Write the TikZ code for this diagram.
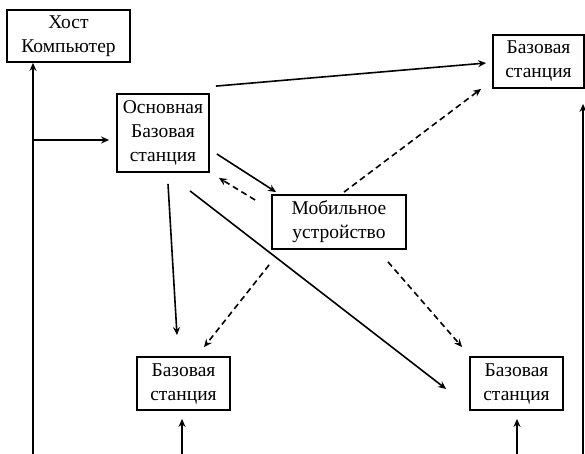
\documentclass[tikz,border=0pt]{standalone}
\usepackage{fontspec}
\setmainfont{Liberation Serif}
\usetikzlibrary{arrows.meta}
\begin{document}
\begin{tikzpicture}[x=1pt,y=-1pt,
  box/.style={draw,line width=1.8pt,rectangle,inner sep=0pt,align=center,
    font=\fontsize{19.5}{24}\selectfont},
  arr/.style={line width=1.6pt,-{Stealth[length=8pt,width=7pt]}},
  darr/.style={arr,dash pattern=on 6pt off 4pt}]
\useasboundingbox (0,0) rectangle (585,454);
\node[box,minimum width=123pt,minimum height=52pt] (host) at (68.5,36) {Хост\\Компьютер};
\node[box,minimum width=92pt,minimum height=78pt] (main) at (163,133) {Основная\\Базовая\\станция};
\node[box,minimum width=91pt,minimum height=53pt] (trbs) at (538.5,61.5) {Базовая\\станция};
\node[box,minimum width=134pt,minimum height=54pt] (mob) at (339,222) {Мобильное\\устройство};
\node[box,minimum width=93pt,minimum height=53pt] (blbs) at (183.5,383.5) {Базовая\\станция};
\node[box,minimum width=93pt,minimum height=53pt] (brbs) at (516.5,383.5) {Базовая\\станция};
\coordinate (hb) at (33,454);
\coordinate (j) at (33,140);
\coordinate (lb) at (182,454);
\coordinate (rb) at (517,454);
\coordinate (tb) at (583,454);
% host line
\draw[arr] (hb) -- ([shift={(-35.5,0)}]host.south);
\draw[arr] (j) -- ([shift={(-7,7)}]main.west);
% main to others
\draw[arr] ([shift={(6,-7)}]main.north east) -- ([shift={(-6,1.5)}]trbs.west);
\draw[arr] ([shift={(7,21)}]main.east) -- ([shift={(5,-2)}]mob.north west);
\draw[arr] ([shift={(5,11)}]main.south) -- ([shift={(-6.5,-21)}]blbs.north);
\draw[arr] ([shift={(27,18)}]main.south) -- ([shift={(-23,5.5)}]brbs.west);
% mobile dashed
\draw[darr] ([shift={(-16,-22)}]mob.west) -- ([shift={(9,5)}]main.south east);
\draw[darr] ([shift={(5,-2)}]mob.north) -- ([shift={(-11,0)}]trbs.south west);
\draw[darr] ([shift={(-2,15)}]mob.south west) -- ([shift={(20.5,-9)}]blbs.north);
\draw[darr] ([shift={(49,12)}]mob.south) -- ([shift={(-7,-9)}]brbs.north west);
% bottom arrows
\draw[arr] (lb) -- ([shift={(-1.5,8)}]blbs.south);
\draw[arr] (rb) -- ([shift={(0.5,8)}]brbs.south);
\draw[arr] (tb) -- ([shift={(44.5,15)}]trbs.south);
\end{tikzpicture}
\end{document}
